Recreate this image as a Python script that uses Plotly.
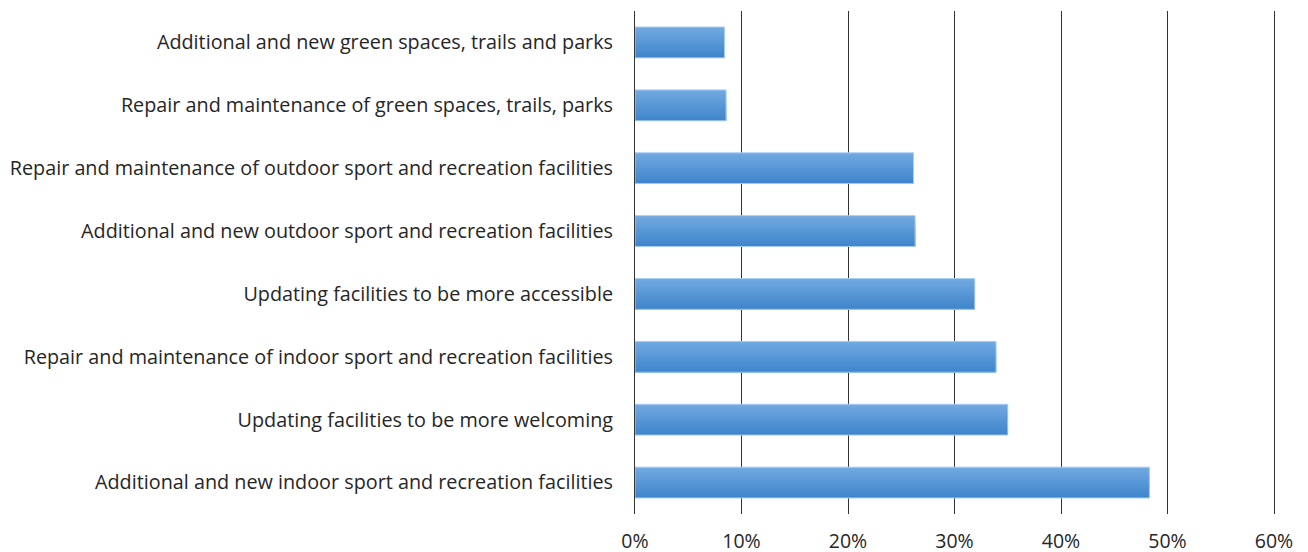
import plotly.graph_objects as go

categories = [
    "Additional and new green spaces, trails and parks",
    "Repair and maintenance of green spaces, trails, parks",
    "Repair and maintenance of outdoor sport and recreation facilities",
    "Additional and new outdoor sport and recreation facilities",
    "Updating facilities to be more accessible",
    "Repair and maintenance of indoor sport and recreation facilities",
    "Updating facilities to be more welcoming",
    "Additional and new indoor sport and recreation facilities",
]
values = [8.4, 8.55, 26.15, 26.3, 31.9, 33.9, 35.0, 48.3]
tick_vals = [0, 10, 20, 30, 40, 50, 60]
tick_text = ["0%", "10%", "20%", "30%", "40%", "50%", "60%"]

FONT = "Open Sans"
BAR_W = 0.49
N = 12
top_rgb = (112, 168, 224)
bot_rgb = (64, 134, 204)

fig = go.Figure()
for i in range(N):
    t = i / (N - 1)
    c = tuple(round(top_rgb[k] + (bot_rgb[k] - top_rgb[k]) * t) for k in range(3))
    fig.add_trace(go.Bar(
        x=values, y=categories, orientation="h",
        width=BAR_W - i * BAR_W / N, offset=-BAR_W / 2 + i * BAR_W / N,
        marker=dict(color="rgb(%d,%d,%d)" % c, line=dict(width=0)),
        showlegend=False, hoverinfo="skip",
    ))
fig.add_trace(go.Bar(
    x=values, y=categories, orientation="h",
    width=BAR_W, offset=-BAR_W / 2,
    marker=dict(color="rgba(0,0,0,0)", line=dict(color="#a8cdf2", width=1)),
    showlegend=False,
))

fig.update_layout(
    width=1308, height=552,
    margin=dict(l=635, r=34, t=11, b=38),
    barmode="overlay",
    plot_bgcolor="white", paper_bgcolor="white",
    font=dict(family=FONT, size=19.5, color="#262626"),
    xaxis=dict(
        range=[0, 60], tickvals=tick_vals, ticktext=tick_text,
        showgrid=True, gridcolor="#333333", gridwidth=1,
        zeroline=False, showline=False, ticks="", ticklabelstandoff=13,
        automargin=False,
    ),
    yaxis=dict(
        autorange="reversed", showgrid=False, zeroline=False,
        showline=True, mirror=True, linecolor="#333333", linewidth=1,
        ticks="", ticklabelstandoff=17, automargin=False,
        tickfont=dict(size=19.8),
    ),
)
fig.write_html("out.html")
